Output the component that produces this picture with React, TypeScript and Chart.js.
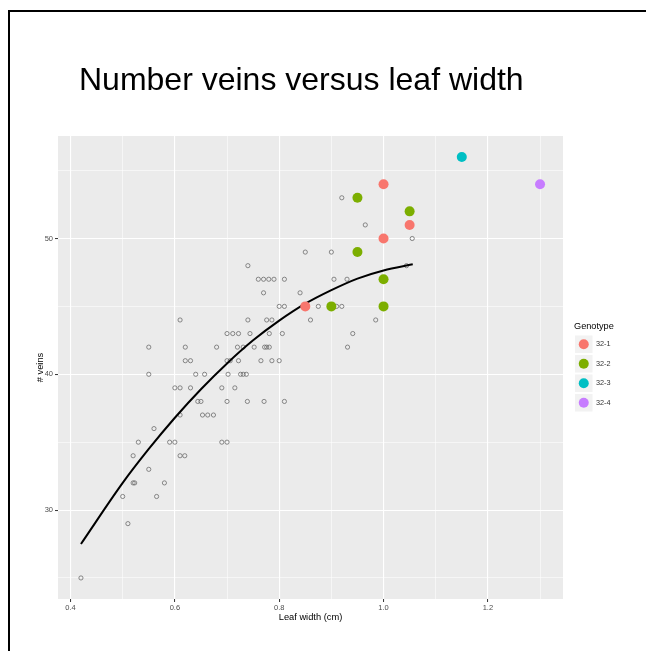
import React, { useEffect, useRef } from 'react';
import { Chart, registerables } from 'chart.js';

Chart.register(...registerables);

// ---------- text ----------
const chartTitle = 'Number veins versus leaf width';
const xAxisTitle = 'Leaf width (cm)';
const yAxisTitle = '# veins';
const legendTitle = 'Genotype';

// ---------- axes ----------
const xMin = 0.376;
const xMax = 1.344;
const yMin = 23.45;
const yMax = 57.55;
const xMajorTicks = [0.4, 0.6, 0.8, 1.0, 1.2];
const xTickLabels = ['0.4', '0.6', '0.8', '1.0', '1.2'];
const xMinorTicks = [0.5, 0.7, 0.9, 1.1, 1.3];
const yMajorTicks = [30, 40, 50];
const yTickLabels = ['30', '40', '50'];
const yMinorTicks = [25, 35, 45, 55];

// ---------- grey (all plants) points ----------
const greyX = [
  0.92,
  0.965,
  1.055,
  0.85, 0.9,
  0.74, 1.044,
  0.76, 0.77, 0.78, 0.79, 0.81, 0.905, 0.93,
  0.77, 0.84,
  0.8, 0.81, 0.875, 0.91, 0.92,
  0.61, 0.74, 0.776, 0.786, 0.86, 0.985,
  0.7, 0.711, 0.722, 0.744, 0.781, 0.806, 0.941,
  0.55, 0.62, 0.68, 0.72, 0.731, 0.752, 0.772, 0.776, 0.781, 0.931,
  0.62, 0.63, 0.7, 0.706, 0.722, 0.765, 0.786, 0.8,
  0.55, 0.64, 0.657, 0.702, 0.726, 0.731, 0.737,
  0.6, 0.61, 0.63, 0.69, 0.715,
  0.644, 0.65, 0.7, 0.739, 0.771, 0.81,
  0.61, 0.653, 0.663, 0.674,
  0.56,
  0.53, 0.59, 0.6, 0.69, 0.7,
  0.52, 0.61, 0.619,
  0.55,
  0.52, 0.523, 0.58,
  0.5, 0.565,
  0.51,
  0.42,
];
const greyY = [
  53,
  51,
  50,
  49, 49,
  48, 48,
  47, 47, 47, 47, 47, 47, 47,
  46, 46,
  45, 45, 45, 45, 45,
  44, 44, 44, 44, 44, 44,
  43, 43, 43, 43, 43, 43, 43,
  42, 42, 42, 42, 42, 42, 42, 42, 42, 42,
  41, 41, 41, 41, 41, 41, 41, 41,
  40, 40, 40, 40, 40, 40, 40,
  39, 39, 39, 39, 39,
  38, 38, 38, 38, 38, 38,
  37, 37, 37, 37,
  36,
  35, 35, 35, 35, 35,
  34, 34, 34,
  33,
  32, 32, 32,
  31, 31,
  29,
  25,
];

// ---------- genotype points ----------
const genotypes = ['32-1', '32-2', '32-3', '32-4'];
const genotypeColors = ['#F8766D', '#7CAE00', '#00BFC4', '#C77CFF'];
const g321X = [1.0, 1.05, 1.0, 0.85];
const g321Y = [54, 51, 50, 45];
const g322X = [0.95, 1.05, 0.95, 1.0, 0.9, 1.0];
const g322Y = [53, 52, 49, 47, 45, 45];
const g323X = [1.15];
const g323Y = [56];
const g324X = [1.3];
const g324Y = [54];

// ---------- fitted curve ----------
const curveX = [0.42, 0.5, 0.55, 0.6, 0.65, 0.7, 0.75, 0.8, 0.85, 0.9, 0.95, 1.0, 1.056];
const curveY = [27.5, 32.0, 34.5, 36.8, 38.9, 40.8, 42.5, 43.95, 45.2, 46.2, 47.05, 47.65, 48.1];

const zip = (xs: number[], ys: number[]) => xs.map((x, i) => ({ x, y: ys[i] }));
const near = (list: number[], v: number) => list.some((m) => Math.abs(m - v) < 1e-6);

const FONT = '"Liberation Sans", Arial, Helvetica, sans-serif';

const decorPlugin = {
  id: 'decor',
  beforeDraw(chart: any) {
    const { ctx, chartArea: a } = chart;
    ctx.save();
    ctx.fillStyle = '#EBEBEB';
    ctx.fillRect(a.left, a.top, a.right - a.left, a.bottom - a.top);
    ctx.restore();
  },
  afterDraw(chart: any) {
    const { ctx, chartArea: a } = chart;
    ctx.save();
    // frame
    ctx.strokeStyle = '#000';
    ctx.lineWidth = 2;
    ctx.beginPath();
    ctx.moveTo(9, 651);
    ctx.lineTo(9, 11);
    ctx.lineTo(646, 11);
    ctx.stroke();

    // title
    ctx.fillStyle = '#000';
    ctx.font = `32px ${FONT}`;
    ctx.textAlign = 'left';
    ctx.textBaseline = 'alphabetic';
    ctx.fillText(chartTitle, 79, 90);

    // axis titles
    ctx.font = `9.3px ${FONT}`;
    ctx.textAlign = 'center';
    ctx.textBaseline = 'middle';
    ctx.fillText(xAxisTitle, (a.left + a.right) / 2, 617);
    ctx.save();
    ctx.translate(40, (a.top + a.bottom) / 2);
    ctx.rotate(-Math.PI / 2);
    ctx.fillText(yAxisTitle, 0, 0);
    ctx.restore();

    // legend
    ctx.textAlign = 'left';
    ctx.font = `9.2px ${FONT}`;
    ctx.fillStyle = '#000';
    ctx.fillText(legendTitle, 574, 326.5);
    const boxX = 575;
    const boxSize = 17.5;
    const top0 = 335.5;
    const pitch = 19.5;
    genotypes.forEach((g, i) => {
      const y = top0 + i * pitch;
      ctx.fillStyle = '#F2F2F2';
      ctx.fillRect(boxX, y, boxSize, boxSize);
      ctx.fillStyle = genotypeColors[i];
      ctx.beginPath();
      ctx.arc(boxX + boxSize / 2, y + boxSize / 2, 5, 0, Math.PI * 2);
      ctx.fill();
      ctx.fillStyle = '#333';
      ctx.font = `7.3px ${FONT}`;
      ctx.fillText(g, 596, y + boxSize / 2);
    });
    ctx.restore();
  },
};

export default function App() {
  const canvasRef = useRef<HTMLCanvasElement | null>(null);

  useEffect(() => {
    const canvas = canvasRef.current;
    if (!canvas) return;

    const pointSets = [
      [g321X, g321Y],
      [g322X, g322Y],
      [g323X, g323Y],
      [g324X, g324Y],
    ];

    const datasets: any[] = [
      ...pointSets.map(([xs, ys], i) => ({
        label: genotypes[i],
        data: zip(xs, ys),
        pointRadius: 5,
        pointHoverRadius: 5,
        pointBackgroundColor: genotypeColors[i],
        pointBorderWidth: 0,
        borderColor: genotypeColors[i],
        showLine: false,
      })),
      {
        label: 'fit',
        data: zip(curveX, curveY),
        showLine: true,
        borderColor: '#000',
        borderWidth: 2,
        pointRadius: 0,
        pointHoverRadius: 0,
        cubicInterpolationMode: 'monotone',
        fill: false,
      },
      {
        label: 'all',
        data: zip(greyX, greyY),
        showLine: false,
        pointRadius: 2.1,
        pointHoverRadius: 2.1,
        pointBackgroundColor: 'rgba(0,0,0,0)',
        pointBorderColor: '#666',
        pointBorderWidth: 0.75,
      },
    ];

    const chart = new Chart(canvas, {
      type: 'scatter',
      data: { datasets },
      plugins: [decorPlugin],
      options: {
        animation: false,
        responsive: false,
        maintainAspectRatio: false,
        events: [],
        layout: { padding: { left: 38, top: 136, right: 83, bottom: 32 } },
        plugins: {
          legend: { display: false },
          title: { display: false },
          tooltip: { enabled: false },
        },
        scales: {
          x: {
            type: 'linear',
            min: xMin,
            max: xMax,
            afterBuildTicks: (scale: any) => {
              scale.ticks = [...xMajorTicks, ...xMinorTicks]
                .sort((p, q) => p - q)
                .map((v) => ({ value: v }));
            },
            afterFit: (scale: any) => {
              scale.height = 20;
            },
            border: { display: false },
            grid: {
              color: '#FFFFFF',
              lineWidth: (c: any) => (c.tick && near(xMajorTicks, c.tick.value) ? 1.1 : 0.55),
              tickLength: 3,
              tickWidth: 1,
              tickColor: (c: any) =>
                c.tick && near(xMajorTicks, c.tick.value) ? '#333333' : 'rgba(0,0,0,0)',
            },
            ticks: {
              autoSkip: false,
              maxRotation: 0,
              padding: 1,
              color: '#4D4D4D',
              font: { size: 7.5, family: FONT },
              callback: (v: any) => {
                const idx = xMajorTicks.findIndex((m) => Math.abs(m - Number(v)) < 1e-6);
                return idx >= 0 ? xTickLabels[idx] : '';
              },
            },
          },
          y: {
            type: 'linear',
            min: yMin,
            max: yMax,
            afterBuildTicks: (scale: any) => {
              scale.ticks = [...yMajorTicks, ...yMinorTicks]
                .sort((p, q) => p - q)
                .map((v) => ({ value: v }));
            },
            afterFit: (scale: any) => {
              scale.width = 20;
            },
            border: { display: false },
            grid: {
              color: '#FFFFFF',
              lineWidth: (c: any) => (c.tick && near(yMajorTicks, c.tick.value) ? 1.1 : 0.55),
              tickLength: 3,
              tickWidth: 1,
              tickColor: (c: any) =>
                c.tick && near(yMajorTicks, c.tick.value) ? '#333333' : 'rgba(0,0,0,0)',
            },
            ticks: {
              autoSkip: false,
              padding: 2,
              color: '#4D4D4D',
              font: { size: 7.5, family: FONT },
              callback: (v: any) => {
                const idx = yMajorTicks.findIndex((m) => Math.abs(m - Number(v)) < 1e-6);
                return idx >= 0 ? yTickLabels[idx] : '';
              },
            },
          },
        },
      } as any,
    });

    return () => {
      chart.destroy();
    };
  }, []);

  return (
    <div style={{ position: 'absolute', left: 0, top: 0, width: 646, height: 651, background: '#fff' }}>
      <canvas ref={canvasRef} width={646} height={651} style={{ display: 'block' }} />
    </div>
  );
}
